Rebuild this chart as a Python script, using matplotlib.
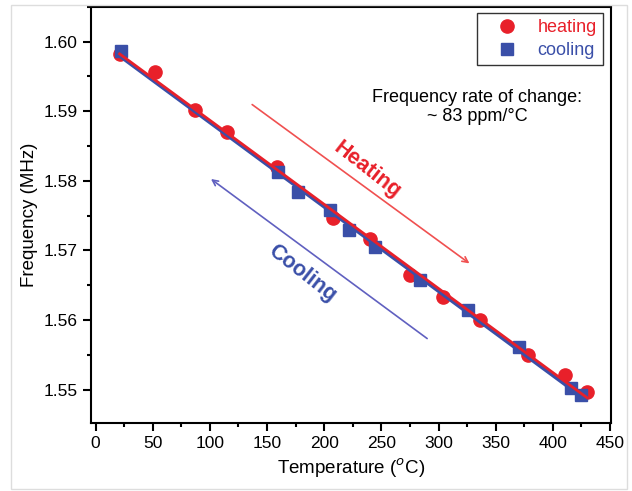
# Frecuencia vs temperatura (calentamiento / enfriamiento)

import numpy as np
import matplotlib.pyplot as plt
from matplotlib.patches import Rectangle

plt.rcParams['font.family'] = ['Liberation Sans', 'DejaVu Sans']

# Datos
temp_heating = [21, 52, 87, 115, 159, 208, 240, 275, 304, 336, 378, 411, 430]
freq_heating = [1.5982, 1.5956, 1.5902, 1.5870, 1.5820, 1.5746, 1.5717,
                1.5664, 1.5633, 1.5600, 1.5549, 1.5521, 1.5497]

temp_cooling = [22, 160, 177, 205, 222, 244, 284, 326, 370, 416, 425]
freq_cooling = [1.5987, 1.5812, 1.5784, 1.5758, 1.5729, 1.5705, 1.5658,
                1.5614, 1.5561, 1.5503, 1.5492]

red = '#e8202a'
blue = '#3a4fa8'

fig = plt.figure(figsize=(6.32, 4.91), dpi=100)
ax = fig.add_axes([0.144, 0.1385, 0.823, 0.8475])

# Ajustes lineales
ph = np.polyfit(temp_heating, freq_heating, 1)
pc = np.polyfit(temp_cooling, freq_cooling, 1)
xh = np.array([min(temp_heating), max(temp_heating)])
xc = np.array([min(temp_cooling), max(temp_cooling)])

ax.plot(temp_heating, freq_heating, 'o', color=red, ms=9.5, label='heating', zorder=3)
ax.plot(temp_cooling, freq_cooling, 's', color=blue, ms=8.5, label='cooling', zorder=4)
ax.plot(xc, np.polyval(pc, xc), color=blue, lw=2.8, zorder=5)
ax.plot(xh, np.polyval(ph, xh), color=red, lw=2.0, zorder=6)

# Flechas
ax.annotate('', xy=(329, 1.5679), xytext=(135, 1.5912),
            arrowprops=dict(arrowstyle='->', color='#f05050', lw=1.2))
ax.annotate('', xy=(99, 1.5805), xytext=(292, 1.5571),
            arrowprops=dict(arrowstyle='->', color='#6060c0', lw=1.2))
ax.text(238, 1.5815, 'Heating', color=red, fontsize=15.5, fontweight='bold',
        rotation=-38, ha='center', va='center')
ax.text(181, 1.5667, 'Cooling', color=blue, fontsize=15.5, fontweight='bold',
        rotation=-38, ha='center', va='center')

ax.text(334, 1.5906, 'Frequency rate of change:\n~ 83 ppm/°C', fontsize=13,
        ha='center', va='center', linespacing=1.15)

ax.set_xlim(-4, 451)
ax.set_ylim(1.5452, 1.605)
ax.set_xticks(np.arange(0, 451, 50))
ax.set_xticks(np.arange(25, 451, 50), minor=True)
ax.set_yticks([1.55, 1.56, 1.57, 1.58, 1.59, 1.60])
ax.set_yticklabels(['1.55', '1.56', '1.57', '1.58', '1.59', '1.60'])
ax.set_yticks(np.arange(1.555, 1.605, 0.01), minor=True)
ax.tick_params(which='major', direction='out', length=6, width=1.5, labelsize=12.5)
ax.tick_params(which='minor', direction='out', length=3, width=1.5)
for s in ax.spines.values():
    s.set_linewidth(1.5)

ax.set_xlabel('Temperature ($^{o}$C)', fontsize=13.5)
ax.set_ylabel('Frequency (MHz)', fontsize=13.5)

leg = ax.legend(loc='upper right', fontsize=13, handletextpad=0.4,
                borderpad=0.35, fancybox=False, edgecolor='black',
                handlelength=2.6, labelspacing=0.3, borderaxespad=0.3,
                bbox_to_anchor=(0.995, 0.998))
leg.get_frame().set_linewidth(1.0)
for t, c in zip(leg.get_texts(), [red, blue]):
    t.set_color(c)

# Marco gris claro
fig.patches.append(Rectangle((0.017, 0.005), 0.975, 0.985, transform=fig.transFigure,
                             fill=False, edgecolor='#dddddd', lw=1.0))

plt.savefig('out.png', dpi=100)
